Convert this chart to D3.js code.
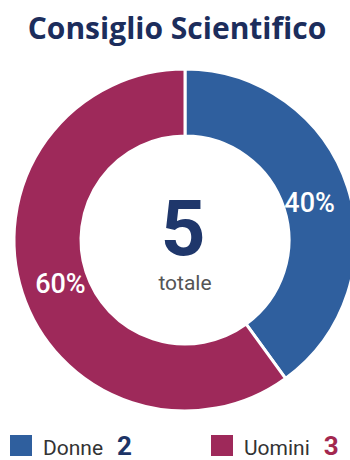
<!DOCTYPE html>
<html>
<head>
<meta charset="utf-8">
<script src="https://cdn.jsdelivr.net/npm/d3@7"></script>
<style>
  body { margin: 0; background: #fff; }
  svg { display: block; font-family: "Roboto", "Open Sans", sans-serif; }
</style>
</head>
<body>
<div id="main"></div>
<script>
// data
const categories = ["Donne", "Uomini"];
const values = [2, 3];
const colors = ["#2f5f9e", "#9e295a"];
const numColors = ["#1d3466", "#a3284f"];
const title = "Consiglio Scientifico";
const totalLabel = "totale";

let width = 350, height = 460;
let cx = 185, cy = 240;
let outerR = 171, innerR = 104;

let svg = d3.select("#main")
	.append("svg")
		.attr("width", width)
		.attr("height", height);

// title
svg.append("text")
	.attr("x", 177)
	.attr("y", 39)
	.attr("text-anchor", "middle")
	.style("font-family", "'Open Sans', sans-serif")
	.style("font-size", "30px")
	.style("font-weight", "700")
	.style("fill", "#1c2d5c")
	.text(title);

const total = d3.sum(values);
const pie = d3.pie().sort(null).value(d => d.value);
const arcs = pie(categories.map((c, i) => ({name: c, value: values[i], color: colors[i]})));

const arc = d3.arc().innerRadius(innerR).outerRadius(outerR);
const labelArc = d3.arc().innerRadius(131).outerRadius(131);

let g = svg.append("g")
	.attr("transform", `translate(${cx},${cy})`);

g.selectAll("path")
	.data(arcs)
	.enter()
	.append("path")
		.attr("d", arc)
		.style("fill", d => d.data.color)
		.style("stroke", "#fff")
		.style("stroke-width", 3);

// percentages
g.selectAll("text.pct")
	.data(arcs)
	.enter()
	.append("text")
		.attr("class", "pct")
		.attr("transform", d => {
			let [x, y] = labelArc.centroid(d);
			return `translate(${x},${y + 3})`
		})
		.attr("text-anchor", "middle")
		.attr("dy", "0.35em")
		.style("font-size", "27px")
		.style("font-weight", "500")
		.style("fill", "#fff")
		.text(d => Math.round(d.data.value / total * 100) + "%");

// center
g.append("text")
	.attr("x", -2)
	.attr("y", 15)
	.attr("text-anchor", "middle")
	.style("font-size", "78px")
	.style("font-weight", "700")
	.style("fill", "#1f376b")
	.text(total);

g.append("text")
	.attr("x", 0)
	.attr("y", 50)
	.attr("text-anchor", "middle")
	.style("font-size", "21px")
	.style("fill", "#555")
	.text(totalLabel);

// legend
const legendX = [10, 211];
let leg = svg.selectAll("g.leg")
	.data(arcs)
	.enter()
	.append("g")
		.attr("class", "leg")
		.attr("transform", (d, i) => `translate(${legendX[i]},435)`);

leg.append("rect")
	.attr("width", 22)
	.attr("height", 21)
	.style("fill", d => d.data.color);

leg.append("text")
	.attr("class", "name")
	.attr("x", 33)
	.attr("y", 20)
	.style("font-size", "21px")
	.style("fill", "#333")
	.text(d => d.data.name);

leg.each(function(d, i) {
	let node = d3.select(this);
	let w = node.select("text.name").node().getComputedTextLength();
	node.append("text")
		.attr("x", 33 + w + 14)
		.attr("y", 20)
		.style("font-size", "26px")
		.style("font-weight", "700")
		.style("fill", numColors[i])
		.text(d.data.value);
});
</script>
</body>
</html>
